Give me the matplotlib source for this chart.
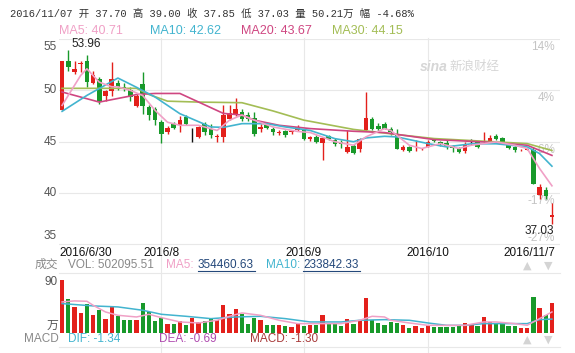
import numpy as np
import matplotlib.pyplot as plt
from matplotlib.lines import Line2D

plt.rcParams['font.family'] = ['Liberation Sans', 'Noto Sans CJK SC', 'DejaVu Sans']

# 日K数据
opens = [48.10, 52.90, 51.78, 52.60, 52.90, 50.74, 51.10, 49.50, 49.90, 50.70,
         50.30, 50.00, 48.50, 50.60, 48.40, 48.20, 46.90, 45.95, 46.76, 46.60,
         47.40, 46.10, 45.47, 46.70, 46.20, 45.45, 45.47, 47.20, 47.57, 47.90,
         47.57, 47.30, 46.20, 46.60, 46.28, 45.88, 46.00, 45.90, 46.10, 46.12,
         45.24, 45.47, 44.92, 45.60, 45.14, 44.98, 44.00, 44.60, 44.34, 46.12,
         47.17, 46.50, 46.76, 46.20, 45.70, 44.18, 44.50, 44.16, 44.26, 44.50,
         45.24, 44.98, 44.92, 44.60, 44.40, 44.08, 44.98, 44.98, 44.96, 44.98,
         45.60, 45.37, 44.66, 44.50, 44.16, 44.22, 44.24, 39.80, 40.33, 37.70]
closes = [52.90, 52.26, 52.10, 52.68, 50.80, 51.45, 49.00, 49.90, 51.10, 50.30,
          50.16, 49.35, 49.50, 48.50, 47.57, 47.10, 45.80, 46.35, 46.37, 47.10,
          46.76, 46.10, 46.44, 45.90, 45.70, 45.50, 47.60, 47.80, 48.20, 47.20,
          47.20, 45.80, 46.44, 46.35, 45.90, 45.92, 45.70, 46.00, 46.44, 45.31,
          45.47, 44.98, 45.37, 45.30, 44.82, 44.82, 44.50, 43.95, 45.30, 47.30,
          46.28, 46.28, 46.28, 45.90, 44.34, 44.50, 44.08, 44.20, 44.30, 44.98,
          45.05, 44.82, 44.50, 44.40, 44.00, 44.70, 44.98, 44.50, 45.00, 45.37,
          45.30, 44.98, 44.40, 44.18, 44.20, 44.26, 40.90, 40.60, 39.71, 37.85]
highs = [52.90, 53.96, 52.90, 52.90, 53.40, 51.90, 51.30, 50.00, 52.80, 51.00,
         50.70, 50.30, 49.60, 51.80, 48.60, 48.40, 47.10, 46.50, 46.90, 47.50,
         47.60, 46.35, 46.50, 46.90, 46.70, 45.80, 48.60, 48.60, 49.30, 48.20,
         47.90, 47.90, 46.70, 46.80, 46.40, 46.10, 46.10, 46.10, 46.65, 46.20,
         45.60, 45.70, 45.50, 45.70, 45.37, 45.20, 46.10, 44.80, 45.40, 49.85,
         47.40, 46.80, 46.90, 46.40, 46.20, 44.70, 44.60, 45.14, 44.40, 45.14,
         45.40, 45.10, 45.20, 44.70, 44.50, 44.98, 45.30, 45.10, 45.95, 45.70,
         45.80, 45.50, 44.80, 44.60, 44.30, 44.35, 44.50, 40.90, 40.60, 39.00]
lows = [48.10, 51.90, 51.60, 51.80, 50.33, 50.60, 48.70, 49.00, 49.50, 50.00,
        49.90, 49.00, 48.35, 47.70, 47.10, 46.60, 44.90, 45.80, 46.20, 45.90,
        46.60, 44.97, 45.40, 45.70, 45.40, 45.00, 45.00, 47.10, 47.50, 47.00,
        47.00, 45.60, 45.90, 46.20, 45.70, 45.70, 45.50, 45.80, 46.00, 45.20,
        45.10, 44.90, 43.20, 45.20, 44.60, 44.40, 43.90, 43.80, 44.00, 46.00,
        46.10, 46.05, 46.20, 45.70, 44.30, 44.10, 44.00, 44.08, 44.20, 44.45,
        44.95, 44.60, 44.30, 44.00, 43.95, 43.90, 44.70, 44.40, 44.90, 44.90,
        45.20, 44.90, 44.30, 44.00, 44.10, 44.15, 40.90, 39.45, 39.45, 37.03]
# 成交量 (万)
vols = [90.0, 56.8, 43.9, 33.8, 49.5, 29.8, 38.3, 23.0, 43.9, 28.1,
        21.4, 21.4, 21.4, 50.6, 35.4, 19.7, 25.9, 14.6, 14.6, 19.7,
        12.9, 25.9, 18.6, 19.7, 25.9, 21.4, 46.7, 31.5, 39.9, 31.5,
        14.6, 25.3, 21.4, 14.0, 14.0, 12.9, 11.3, 10.1, 16.9, 11.3,
        12.9, 12.9, 29.8, 15.8, 15.8, 11.3, 24.2, 15.8, 21.4, 59.0,
        22.5, 16.9, 12.9, 18.6, 16.9, 12.9, 9.0, 11.3, 9.0, 12.9,
        10.0, 10.0, 10.0, 10.0, 11.3, 16.9, 14.6, 11.3, 27.0, 18.6,
        16.9, 15.8, 11.3, 11.3, 9.0, 9.0, 60.8, 42.2, 29.8, 50.2]

# 均线 (取样点: 序号, 数值)
ma5_i = [0, 3, 4, 6, 8, 9, 11, 13, 15, 17, 19, 22, 25, 27, 29, 31, 34, 38, 40,
         44, 47, 49, 52, 53, 56, 58, 61, 64, 66, 70, 73, 75, 77, 79]
ma5_v = [48.54, 51.46, 52.10, 50.80, 50.35, 50.35, 50.00, 49.50, 48.05, 46.90,
         46.60, 46.60, 46.10, 47.10, 47.60, 47.10, 46.44, 46.00, 45.90, 45.00,
         44.66, 45.47, 46.28, 46.10, 44.66, 44.34, 44.82, 44.34, 44.66, 44.98,
         44.66, 44.34, 42.40, 40.71]
ma10_i = [0, 4, 9, 12, 15, 19, 24, 26, 29, 33, 36, 40, 44, 47, 49, 52, 54, 59,
          62, 66, 70, 75, 77, 79]
ma10_v = [47.96, 49.51, 51.20, 50.30, 49.35, 47.73, 46.44, 46.40, 46.76, 46.76,
          46.44, 46.10, 45.30, 45.00, 45.37, 45.53, 45.47, 44.82, 44.50, 44.80,
          44.80, 44.50, 43.85, 42.62]
ma20_i = [0, 6, 11, 12, 15, 19, 26, 29, 31, 35, 40, 47, 52, 60, 68, 75, 79]
ma20_v = [49.84, 48.86, 49.45, 49.60, 49.70, 49.70, 47.76, 47.60, 47.10, 46.60,
          46.28, 46.02, 45.89, 45.21, 44.98, 44.66, 43.67]
ma30_i = [0, 12, 14, 17, 22, 29, 34, 39, 47, 54, 60, 68, 75, 79]
ma30_v = [50.20, 50.20, 49.60, 48.95, 48.86, 48.80, 48.00, 47.10, 46.20, 45.70,
          45.31, 45.05, 44.82, 44.15]
# 成交量均线
vma5_i = [0, 2, 4, 5, 7, 9, 12, 14, 16, 19, 22, 25, 27, 29, 32, 35, 38, 42, 45,
          48, 50, 52, 53, 56, 59, 62, 65, 68, 70, 73, 75, 77, 79]
vma5_v = [52.3, 54.0, 53.4, 46.7, 35.4, 29.8, 27.0, 31.5, 25.9, 18.6, 16.9, 21.4,
          28.1, 33.8, 29.8, 21.4, 15.8, 15.8, 15.8, 21.4, 28.1, 27.0, 21.4, 16.9,
          12.9, 12.9, 12.9, 18.6, 18.6, 15.8, 12.9, 24.2, 35.4]
vma10_i = [0, 5, 9, 13, 16, 20, 24, 28, 32, 36, 40, 45, 48, 52, 56, 59, 62, 65,
           68, 73, 75, 77, 79]
vma10_v = [49.5, 45.6, 43.9, 38.3, 31.5, 28.1, 24.2, 27.0, 28.1, 24.2, 18.6, 18.6,
           21.4, 22.5, 21.4, 16.9, 12.9, 12.9, 15.8, 15.8, 15.8, 22.5, 23.4]

month_idx = [16, 39, 59]
month_lab = ['2016/8', '2016/9', '2016/10']
y_ticks = [55, 50, 45, 40, 35]
pct_lab = ['14%', '4%', '-6%', '-17%', '-27%']

red, green = '#e3201b', '#18992a'
c_ma5, c_ma10, c_ma20, c_ma30 = '#f0a0c6', '#42b4cf', '#cf4681', '#a3bd55'
grid_c = '#e8e8e8'

W, H = 575, 353
fig = plt.figure(figsize=(W / 100, H / 100), dpi=100)


def fx(x):
    return x / W


def fy(y):
    return 1 - y / H


X0, X1 = 59, 560
xlim = (-0.5, 80.3)
ax = fig.add_axes([fx(X0), fy(246), (X1 - X0) / W, 207.5 / H])
axv = fig.add_axes([fx(X0), fy(333), (X1 - X0) / W, 60 / H])

# K线
n = len(closes)
idx = np.arange(n)
o = np.array(opens)
c = np.array(closes)
cols = [red if cc > oo else green if cc < oo else '#111111' for oo, cc in zip(o, c)]
ax.vlines(idx, lows, highs, colors=cols, lw=1, zorder=2)
ax.bar(idx, np.maximum(np.abs(c - o), 0.08), bottom=np.minimum(o, c), width=0.72,
       color=cols, linewidth=0, zorder=3)

ax.plot(ma30_i, ma30_v, color=c_ma30, lw=1.2, zorder=4)
ax.plot(ma20_i, ma20_v, color=c_ma20, lw=1.2, zorder=4)
ax.plot(ma10_i, ma10_v, color=c_ma10, lw=1.2, zorder=4)
ax.plot(ma5_i, ma5_v, color=c_ma5, lw=1.2, zorder=4)

for v in y_ticks:
    ax.axhline(v, color=grid_c, lw=0.8, zorder=0)
ax.set_xlim(*xlim)
ax.set_ylim(34.85, 55.05)
ax.axis('off')

# 左侧价格刻度
for v in y_ticks:
    va, dy = 'center', 0
    if v == 55:
        va, dy = 'top', -2
    if v == 35:
        va, dy = 'bottom', 2
    ax.annotate(str(v), xy=(0, v), xycoords=('axes fraction', 'data'),
                xytext=(-2, dy), textcoords='offset pixels', ha='right', va=va,
                fontsize=8.5, color='#555555')
# 右侧涨跌幅
for v, t in zip(y_ticks, pct_lab):
    va, dy = 'top', -2
    if v == 35:
        va, dy = 'bottom', 0
    ax.annotate(t, xy=(0.99, v), xycoords=('axes fraction', 'data'),
                xytext=(0, dy), textcoords='offset pixels', ha='right', va=va,
                fontsize=8.5, color='#c4c4c4', zorder=1)

# 最高/最低标注
hi = int(np.argmax(highs))
lo = int(np.argmin(lows))
ax.annotate(f'{highs[hi]:.2f}', xy=(hi, highs[hi]), xytext=(3, 0),
            textcoords='offset pixels', ha='left', va='bottom', fontsize=8.5, color='#222222')
ax.annotate(f'{lows[lo]:.2f}', xy=(lo, lows[lo]), xytext=(2, -1),
            textcoords='offset pixels', ha='right', va='top', fontsize=8.5, color='#222222',
            zorder=5)

# 日期
date_kw = dict(xycoords=('data', 'axes fraction'), textcoords='offset pixels',
               va='center', fontsize=8.5, color='#111111')
ax.annotate('2016/6/30', xy=(-0.4, 0), xytext=(0, -7), ha='left', **date_kw)
for k, t in zip(month_idx, month_lab):
    ax.annotate(t, xy=(k, 0), xytext=(0, -7), ha='center', **date_kw)
ax.annotate('2016/11/7', xy=(n - 1 + 0.5, 0), xytext=(0, -7), ha='right', **date_kw)

# 成交量
vcols = [green if cc < oo else red for oo, cc in zip(o, c)]
axv.bar(idx, vols, width=0.7, color=vcols, linewidth=0, zorder=2)
axv.plot(vma10_i, vma10_v, color=c_ma10, lw=1.1, zorder=3)
axv.plot(vma5_i, vma5_v, color=c_ma5, lw=1.1, zorder=3)
axv.set_xlim(*xlim)
axv.set_ylim(0, 101)
axv.axis('off')

# 网格线 (竖线贯穿)
for k in month_idx:
    xf = fx(X0) + (k - xlim[0]) / (xlim[1] - xlim[0]) * (X1 - X0) / W
    fig.add_artist(Line2D([xf, xf], [fy(38), 0], transform=fig.transFigure,
                          color=grid_c, lw=0.8, zorder=-1))
for yy in [273, 347]:
    fig.add_artist(Line2D([fx(X0), fx(X1)], [fy(yy), fy(yy)], transform=fig.transFigure,
                          color=grid_c, lw=0.8, zorder=-1))

# 文字
fig.text(fx(10), fy(14), '2016/11/07 开 37.70 高 39.00 收 37.85 低 37.03 量 50.21万 幅 -4.68%',
         family=['Liberation Mono', 'Noto Sans CJK SC'], fontsize=7.5, color='#333333', va='center')
fig.text(fx(59), fy(31), 'MA5: 40.71', fontsize=9, color=c_ma5, va='center')
fig.text(fx(150), fy(31), 'MA10: 42.62', fontsize=9, color=c_ma10, va='center')
fig.text(fx(241), fy(31), 'MA20: 43.67', fontsize=9, color=c_ma20, va='center')
fig.text(fx(332), fy(31), 'MA30: 44.15', fontsize=9, color=c_ma30, va='center')

fig.text(fx(420), fy(67), 'sina', fontsize=10, style='italic', weight='bold',
         color='#d6d6d6', va='center')
fig.text(fx(449), fy(67), '新浪财经', fontsize=9, color='#d6d6d6', va='center')

fig.text(fx(35), fy(265), '成交', fontsize=8.5, color='#888888', va='center')
fig.text(fx(68), fy(265), 'VOL: 502095.51', fontsize=8.5, color='#888888', va='center')
fig.text(fx(166), fy(265), 'MA5:', fontsize=8.5, color=c_ma5, va='center')
fig.text(fx(198), fy(265), '354460.63', fontsize=8.5, color='#24487a', va='center')
fig.text(fx(266), fy(265), 'MA10:', fontsize=8.5, color=c_ma10, va='center')
fig.text(fx(303), fy(265), '233842.33', fontsize=8.5, color='#24487a', va='center')
for x0, x1 in [(198, 255), (303, 360)]:
    fig.add_artist(Line2D([fx(x0), fx(x1)], [fy(271), fy(271)], transform=fig.transFigure,
                          color='#24487a', lw=0.8))
fig.text(fx(58), fy(282), '90', fontsize=8.5, color='#555555', va='center', ha='right')
fig.text(fx(58), fy(326), '万', fontsize=8.5, color='#555555', va='center', ha='right')

fig.text(fx(24), fy(339), 'MACD', fontsize=8.5, color='#888888', va='center')
fig.text(fx(68), fy(339), 'DIF: -1.34', fontsize=8.5, color=c_ma10, va='center')
fig.text(fx(159), fy(339), 'DEA: -0.69', fontsize=8.5, color='#b04bb0', va='center')
fig.text(fx(250), fy(339), 'MACD: -1.30', fontsize=8.5, color='#a83a3a', va='center')
for yy in [266, 340]:
    fig.text(fx(527), fy(yy), '▲', fontsize=8, color='#d4d4d4', va='center', ha='center',
             family='DejaVu Sans')
    fig.text(fx(548), fy(yy), '▼', fontsize=8, color='#d4d4d4', va='center', ha='center',
             family='DejaVu Sans')

fig.savefig('out.png', dpi=100)
